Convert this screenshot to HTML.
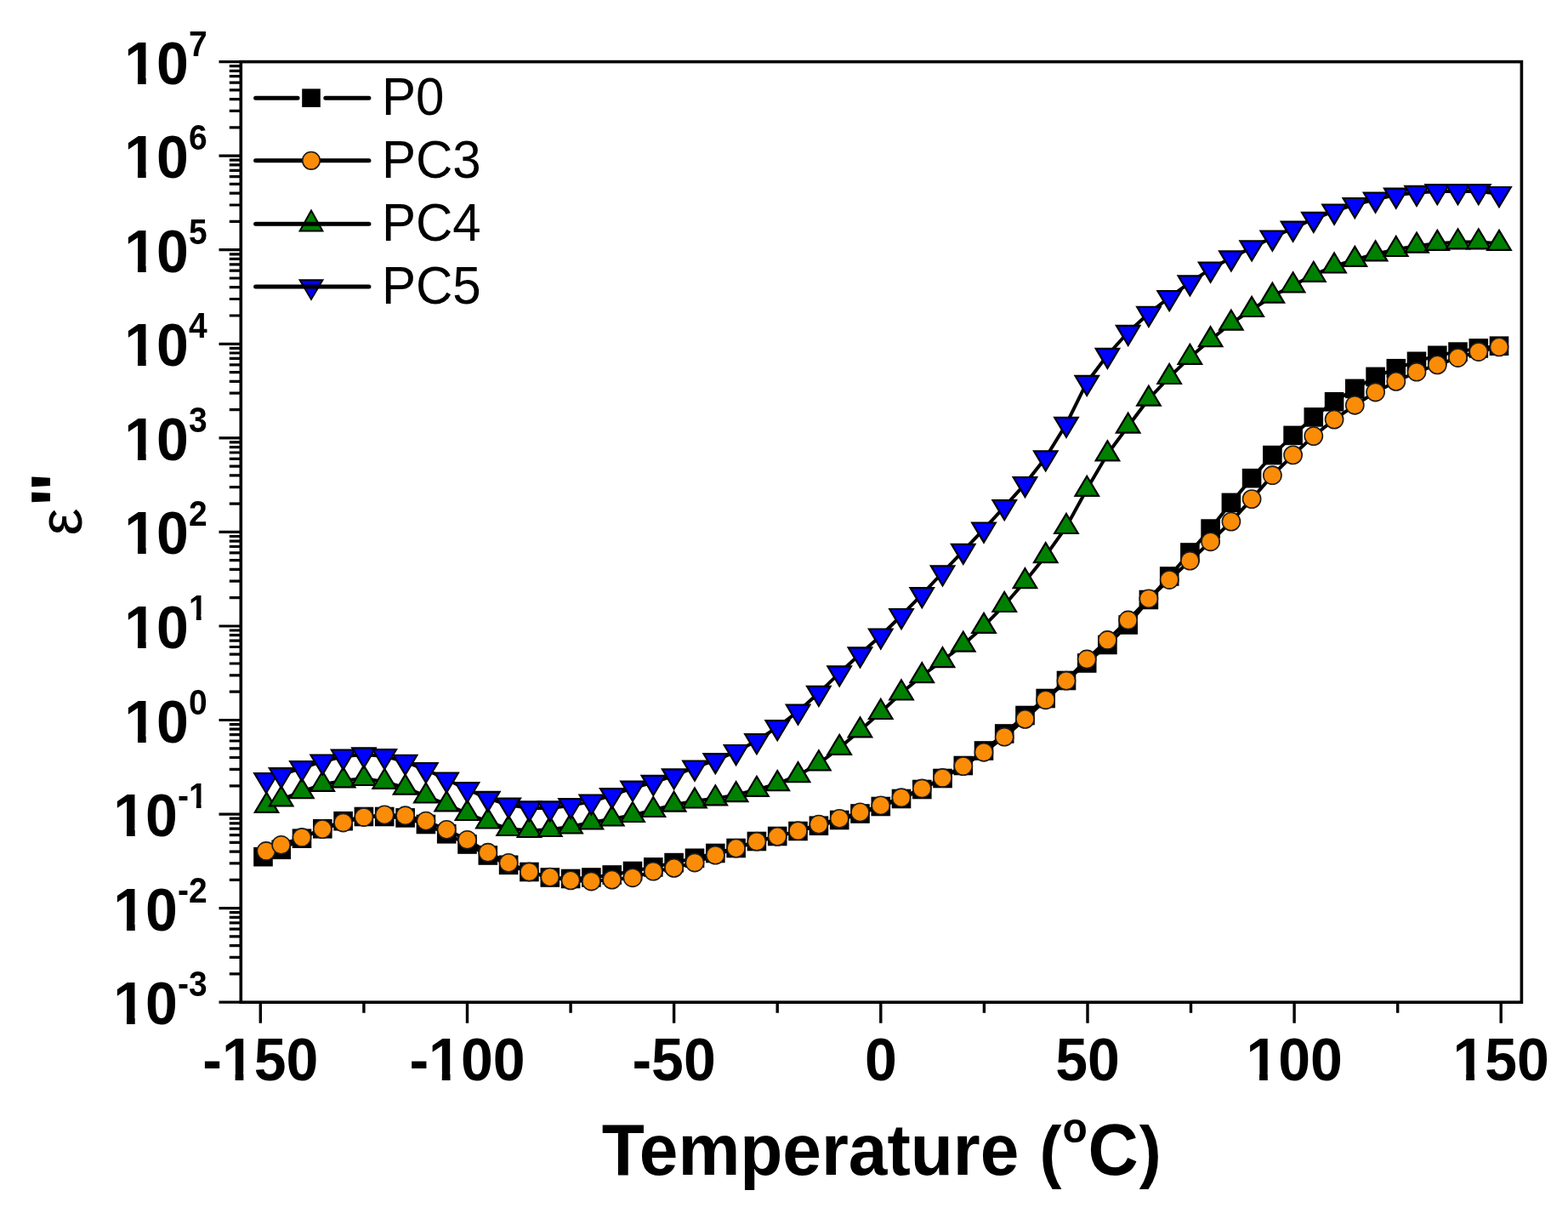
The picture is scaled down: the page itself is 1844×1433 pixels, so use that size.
<!DOCTYPE html>
<html><head><meta charset="utf-8"><title>Temperature dependence of dielectric loss</title>
<style>html,body{margin:0;padding:0;background:#fff;overflow:hidden}svg{display:block}.b{font-family:"Liberation Sans",Arial,sans-serif;font-weight:bold}.r{font-family:"Liberation Sans",Arial,sans-serif;font-weight:normal}</style></head><body>
<svg width="1844" height="1433" viewBox="0 0 1844 1433">
<rect width="1844" height="1433" fill="#fff"/>
<polyline points="309.5,1007.2 330.7,998.8 355,985.7 379.3,974.3 403.6,965.2 427.9,960 452.2,960 476.6,961.4 500.9,969 525.2,980.3 549.5,992.5 573.8,1005.5 598.1,1016.8 622.4,1025 646.8,1031.5 671.1,1033 695.4,1031.5 719.7,1028.5 744,1024 768.3,1019.4 792.6,1014.1 817,1008.8 841.3,1003 865.6,997 889.9,989 914.2,983 938.5,977 962.9,970.7 987.2,964 1011.5,956.5 1035.8,948 1060,939 1084.3,928 1108.5,915 1132.8,900 1157,882.5 1181.2,862.5 1205.5,841 1229.7,821 1254,800 1278.2,779.5 1302.4,758 1326.7,734.5 1350.9,705 1375.2,677.5 1399.4,649.5 1423.6,621.6 1447.9,590.9 1472.1,562.2 1496.4,535.1 1520.6,511.9 1544.8,490.4 1569.1,472.3 1593.3,456.9 1617.6,442.9 1641.8,433.2 1666,424.8 1690.3,417.8 1714.5,413.6 1738.8,409.4 1763,406.7" fill="none" stroke="#000" stroke-width="4.0" stroke-linejoin="round"/>
<g fill="#000" stroke="#000" stroke-width="1.6" stroke-linejoin="miter">
<rect x="299" y="996.7" width="21" height="21"/>
<rect x="320.2" y="988.3" width="21" height="21"/>
<rect x="344.5" y="975.2" width="21" height="21"/>
<rect x="368.8" y="963.8" width="21" height="21"/>
<rect x="393.1" y="954.7" width="21" height="21"/>
<rect x="417.4" y="949.5" width="21" height="21"/>
<rect x="441.7" y="949.5" width="21" height="21"/>
<rect x="466.1" y="950.9" width="21" height="21"/>
<rect x="490.4" y="958.5" width="21" height="21"/>
<rect x="514.7" y="969.8" width="21" height="21"/>
<rect x="539" y="982" width="21" height="21"/>
<rect x="563.3" y="995" width="21" height="21"/>
<rect x="587.6" y="1006.3" width="21" height="21"/>
<rect x="611.9" y="1014.5" width="21" height="21"/>
<rect x="636.3" y="1021" width="21" height="21"/>
<rect x="660.6" y="1022.5" width="21" height="21"/>
<rect x="684.9" y="1021" width="21" height="21"/>
<rect x="709.2" y="1018" width="21" height="21"/>
<rect x="733.5" y="1013.5" width="21" height="21"/>
<rect x="757.8" y="1008.9" width="21" height="21"/>
<rect x="782.1" y="1003.6" width="21" height="21"/>
<rect x="806.5" y="998.3" width="21" height="21"/>
<rect x="830.8" y="992.5" width="21" height="21"/>
<rect x="855.1" y="986.5" width="21" height="21"/>
<rect x="879.4" y="978.5" width="21" height="21"/>
<rect x="903.7" y="972.5" width="21" height="21"/>
<rect x="928" y="966.5" width="21" height="21"/>
<rect x="952.4" y="960.2" width="21" height="21"/>
<rect x="976.7" y="953.5" width="21" height="21"/>
<rect x="1001" y="946" width="21" height="21"/>
<rect x="1025.3" y="937.5" width="21" height="21"/>
<rect x="1049.5" y="928.5" width="21" height="21"/>
<rect x="1073.8" y="917.5" width="21" height="21"/>
<rect x="1098" y="904.5" width="21" height="21"/>
<rect x="1122.3" y="889.5" width="21" height="21"/>
<rect x="1146.5" y="872" width="21" height="21"/>
<rect x="1170.7" y="852" width="21" height="21"/>
<rect x="1195" y="830.5" width="21" height="21"/>
<rect x="1219.2" y="810.5" width="21" height="21"/>
<rect x="1243.5" y="789.5" width="21" height="21"/>
<rect x="1267.7" y="769" width="21" height="21"/>
<rect x="1291.9" y="747.5" width="21" height="21"/>
<rect x="1316.2" y="724" width="21" height="21"/>
<rect x="1340.4" y="694.5" width="21" height="21"/>
<rect x="1364.7" y="667" width="21" height="21"/>
<rect x="1388.9" y="639" width="21" height="21"/>
<rect x="1413.1" y="611.1" width="21" height="21"/>
<rect x="1437.4" y="580.4" width="21" height="21"/>
<rect x="1461.6" y="551.7" width="21" height="21"/>
<rect x="1485.9" y="524.6" width="21" height="21"/>
<rect x="1510.1" y="501.4" width="21" height="21"/>
<rect x="1534.3" y="479.9" width="21" height="21"/>
<rect x="1558.6" y="461.8" width="21" height="21"/>
<rect x="1582.8" y="446.4" width="21" height="21"/>
<rect x="1607.1" y="432.4" width="21" height="21"/>
<rect x="1631.3" y="422.7" width="21" height="21"/>
<rect x="1655.5" y="414.3" width="21" height="21"/>
<rect x="1679.8" y="407.3" width="21" height="21"/>
<rect x="1704" y="403.1" width="21" height="21"/>
<rect x="1728.3" y="398.9" width="21" height="21"/>
<rect x="1752.5" y="396.2" width="21" height="21"/>
</g>
<polyline points="313,1000.5 330.7,993.3 355,984.5 379.3,974.6 403.6,967 427.9,960.5 452.2,957.9 476.6,958.7 500.9,965.1 525.2,975.4 549.5,987.3 573.8,1002.2 598.1,1014.4 622.4,1025 646.8,1031.1 671.1,1034.9 695.4,1036 719.7,1034.1 744,1031.8 768.3,1024.2 792.6,1020.4 817,1014 841.3,1005.2 865.6,997.1 889.9,989.2 914.2,983.4 938.5,976.7 962.9,969.1 987.2,962.4 1011.5,954.9 1035.8,946.9 1060,937.7 1084.3,927 1108.5,914.5 1132.8,900.6 1157,884.3 1181.2,866.2 1205.5,845.4 1229.7,822.8 1254,800.2 1278.2,775 1302.4,752.5 1326.7,729 1350.9,703.8 1375.2,681.5 1399.4,659.2 1423.6,636.8 1447.9,613.1 1472.1,586.6 1496.4,558.7 1520.6,534.9 1544.8,512.6 1569.1,493.1 1593.3,476.3 1617.6,461 1641.8,448.4 1666,437.2 1690.3,428.9 1714.5,420.5 1738.8,413.5 1763,407.9" fill="none" stroke="#000" stroke-width="4.0" stroke-linejoin="round"/>
<g fill="#fb8c08" stroke="#1a1a1a" stroke-width="1.6" stroke-linejoin="miter">
<circle cx="313" cy="1000.5" r="10.6"/>
<circle cx="330.7" cy="993.3" r="10.6"/>
<circle cx="355" cy="984.5" r="10.6"/>
<circle cx="379.3" cy="974.6" r="10.6"/>
<circle cx="403.6" cy="967" r="10.6"/>
<circle cx="427.9" cy="960.5" r="10.6"/>
<circle cx="452.2" cy="957.9" r="10.6"/>
<circle cx="476.6" cy="958.7" r="10.6"/>
<circle cx="500.9" cy="965.1" r="10.6"/>
<circle cx="525.2" cy="975.4" r="10.6"/>
<circle cx="549.5" cy="987.3" r="10.6"/>
<circle cx="573.8" cy="1002.2" r="10.6"/>
<circle cx="598.1" cy="1014.4" r="10.6"/>
<circle cx="622.4" cy="1025" r="10.6"/>
<circle cx="646.8" cy="1031.1" r="10.6"/>
<circle cx="671.1" cy="1034.9" r="10.6"/>
<circle cx="695.4" cy="1036" r="10.6"/>
<circle cx="719.7" cy="1034.1" r="10.6"/>
<circle cx="744" cy="1031.8" r="10.6"/>
<circle cx="768.3" cy="1024.2" r="10.6"/>
<circle cx="792.6" cy="1020.4" r="10.6"/>
<circle cx="817" cy="1014" r="10.6"/>
<circle cx="841.3" cy="1005.2" r="10.6"/>
<circle cx="865.6" cy="997.1" r="10.6"/>
<circle cx="889.9" cy="989.2" r="10.6"/>
<circle cx="914.2" cy="983.4" r="10.6"/>
<circle cx="938.5" cy="976.7" r="10.6"/>
<circle cx="962.9" cy="969.1" r="10.6"/>
<circle cx="987.2" cy="962.4" r="10.6"/>
<circle cx="1011.5" cy="954.9" r="10.6"/>
<circle cx="1035.8" cy="946.9" r="10.6"/>
<circle cx="1060" cy="937.7" r="10.6"/>
<circle cx="1084.3" cy="927" r="10.6"/>
<circle cx="1108.5" cy="914.5" r="10.6"/>
<circle cx="1132.8" cy="900.6" r="10.6"/>
<circle cx="1157" cy="884.3" r="10.6"/>
<circle cx="1181.2" cy="866.2" r="10.6"/>
<circle cx="1205.5" cy="845.4" r="10.6"/>
<circle cx="1229.7" cy="822.8" r="10.6"/>
<circle cx="1254" cy="800.2" r="10.6"/>
<circle cx="1278.2" cy="775" r="10.6"/>
<circle cx="1302.4" cy="752.5" r="10.6"/>
<circle cx="1326.7" cy="729" r="10.6"/>
<circle cx="1350.9" cy="703.8" r="10.6"/>
<circle cx="1375.2" cy="681.5" r="10.6"/>
<circle cx="1399.4" cy="659.2" r="10.6"/>
<circle cx="1423.6" cy="636.8" r="10.6"/>
<circle cx="1447.9" cy="613.1" r="10.6"/>
<circle cx="1472.1" cy="586.6" r="10.6"/>
<circle cx="1496.4" cy="558.7" r="10.6"/>
<circle cx="1520.6" cy="534.9" r="10.6"/>
<circle cx="1544.8" cy="512.6" r="10.6"/>
<circle cx="1569.1" cy="493.1" r="10.6"/>
<circle cx="1593.3" cy="476.3" r="10.6"/>
<circle cx="1617.6" cy="461" r="10.6"/>
<circle cx="1641.8" cy="448.4" r="10.6"/>
<circle cx="1666" cy="437.2" r="10.6"/>
<circle cx="1690.3" cy="428.9" r="10.6"/>
<circle cx="1714.5" cy="420.5" r="10.6"/>
<circle cx="1738.8" cy="413.5" r="10.6"/>
<circle cx="1763" cy="407.9" r="10.6"/>
</g>
<polyline points="313.5,947.2 330.7,939.6 355,930.5 379.3,922.1 403.6,917.6 427.9,915.3 452.2,919.1 476.6,925.9 500.9,935.8 525.2,945.7 549.5,956.3 573.8,965.8 598.1,974.3 622.4,976.3 646.8,975.3 671.1,971.8 695.4,966.8 719.7,962.8 744,958.3 768.3,952.3 792.6,946 817,941.8 841.3,938.6 865.6,934.4 889.9,928.1 914.2,921.4 938.5,911.4 962.9,897.6 987.2,879.2 1011.5,858.6 1035.8,837.3 1060,814.8 1084.3,794.5 1108.5,776.5 1132.8,758 1157,736.2 1181.2,711.3 1205.5,683.5 1229.7,653.4 1254,619.3 1278.2,575.1 1302.4,533.7 1326.7,501 1350.9,469 1375.2,443.3 1399.4,420.1 1423.6,399.5 1447.9,380 1472.1,364.3 1496.4,348 1520.6,335.6 1544.8,323.1 1569.1,312.8 1593.3,305.2 1617.6,298.7 1641.8,293.3 1666,288.9 1690.3,286.2 1714.5,284.6 1738.8,284.6 1763,286.2" fill="none" stroke="#000" stroke-width="4.0" stroke-linejoin="round"/>
<g fill="#008000" stroke="#000" stroke-width="2.2" stroke-linejoin="miter">
<path d="M313.5 931.9L327.2 954.9H299.8Z"/>
<path d="M330.7 924.3L344.4 947.3H316.9Z"/>
<path d="M355 915.2L368.7 938.2H341.2Z"/>
<path d="M379.3 906.8L393 929.8H365.5Z"/>
<path d="M403.6 902.3L417.4 925.3H389.9Z"/>
<path d="M427.9 900L441.7 923H414.2Z"/>
<path d="M452.2 903.8L466 926.8H438.5Z"/>
<path d="M476.6 910.6L490.3 933.6H462.8Z"/>
<path d="M500.9 920.5L514.6 943.5H487.1Z"/>
<path d="M525.2 930.4L538.9 953.4H511.4Z"/>
<path d="M549.5 941L563.2 964H535.7Z"/>
<path d="M573.8 950.5L587.6 973.5H560.1Z"/>
<path d="M598.1 959L611.9 982H584.4Z"/>
<path d="M622.4 961L636.2 984H608.7Z"/>
<path d="M646.8 960L660.5 983H633Z"/>
<path d="M671.1 956.5L684.8 979.5H657.3Z"/>
<path d="M695.4 951.5L709.1 974.5H681.6Z"/>
<path d="M719.7 947.5L733.5 970.5H706Z"/>
<path d="M744 943L757.8 966H730.3Z"/>
<path d="M768.3 937L782.1 960H754.6Z"/>
<path d="M792.6 930.7L806.4 953.7H778.9Z"/>
<path d="M817 926.5L830.7 949.5H803.2Z"/>
<path d="M841.3 923.3L855 946.3H827.5Z"/>
<path d="M865.6 919.1L879.3 942.1H851.8Z"/>
<path d="M889.9 912.8L903.7 935.8H876.2Z"/>
<path d="M914.2 906.1L928 929.1H900.5Z"/>
<path d="M938.5 896.1L952.3 919.1H924.8Z"/>
<path d="M962.9 882.3L976.6 905.3H949.1Z"/>
<path d="M987.2 863.9L1000.9 886.9H973.4Z"/>
<path d="M1011.5 843.3L1025.2 866.3H997.7Z"/>
<path d="M1035.8 822L1049.5 845H1022Z"/>
<path d="M1060 799.5L1073.8 822.5H1046.3Z"/>
<path d="M1084.3 779.2L1098 802.2H1070.5Z"/>
<path d="M1108.5 761.2L1122.3 784.2H1094.8Z"/>
<path d="M1132.8 742.7L1146.5 765.7H1119Z"/>
<path d="M1157 720.9L1170.8 743.9H1143.2Z"/>
<path d="M1181.2 696L1195 719H1167.5Z"/>
<path d="M1205.5 668.2L1219.2 691.2H1191.7Z"/>
<path d="M1229.7 638.1L1243.5 661.1H1216Z"/>
<path d="M1254 604L1267.7 627H1240.2Z"/>
<path d="M1278.2 559.8L1292 582.8H1264.5Z"/>
<path d="M1302.4 518.4L1316.2 541.4H1288.7Z"/>
<path d="M1326.7 485.7L1340.4 508.7H1312.9Z"/>
<path d="M1350.9 453.7L1364.7 476.7H1337.2Z"/>
<path d="M1375.2 428L1388.9 451H1361.4Z"/>
<path d="M1399.4 404.8L1413.1 427.8H1385.6Z"/>
<path d="M1423.6 384.2L1437.4 407.2H1409.9Z"/>
<path d="M1447.9 364.7L1461.6 387.7H1434.1Z"/>
<path d="M1472.1 349L1485.9 372H1458.4Z"/>
<path d="M1496.4 332.7L1510.1 355.7H1482.6Z"/>
<path d="M1520.6 320.3L1534.3 343.3H1506.8Z"/>
<path d="M1544.8 307.8L1558.6 330.8H1531.1Z"/>
<path d="M1569.1 297.5L1582.8 320.5H1555.3Z"/>
<path d="M1593.3 289.9L1607.1 312.9H1579.6Z"/>
<path d="M1617.6 283.4L1631.3 306.4H1603.8Z"/>
<path d="M1641.8 278L1655.5 301H1628Z"/>
<path d="M1666 273.6L1679.8 296.6H1652.3Z"/>
<path d="M1690.3 270.9L1704 293.9H1676.5Z"/>
<path d="M1714.5 269.3L1728.3 292.3H1700.8Z"/>
<path d="M1738.8 269.3L1752.5 292.3H1725Z"/>
<path d="M1763 270.9L1776.8 293.9H1749.2Z"/>
</g>
<polyline points="313,916.9 330.7,910.9 355,902.9 379.3,895.2 403.6,889.2 427.9,887 452.2,888.9 476.6,895.6 500.9,904.8 525.2,916.2 549.5,927.9 573.8,938.6 598.1,946.2 622.4,950 646.8,950 671.1,946.9 695.4,942.4 719.7,934.8 744,926.4 768.3,919.6 792.6,912 817,902.2 841.3,893.8 865.6,883.7 889.9,870.7 914.2,854.8 938.5,836.4 962.9,814.6 987.2,791.1 1011.5,769.1 1035.8,747.2 1060,723.7 1084.3,698.8 1108.5,673 1132.8,647.6 1157,622.2 1181.2,595.8 1205.5,568.8 1229.7,538 1254,498.5 1278.2,449.5 1302.4,417.5 1326.7,390.5 1350.9,368.5 1375.2,349.7 1399.4,332.1 1423.6,316.2 1447.9,303 1472.1,291.1 1496.4,279.2 1520.6,268.3 1544.8,257.5 1569.1,248.2 1593.3,240.7 1617.6,234.2 1641.8,229.3 1666,226.6 1690.3,224.9 1714.5,224.9 1738.8,224.9 1763,227.7" fill="none" stroke="#000" stroke-width="4.0" stroke-linejoin="round"/>
<g fill="#0000ff" stroke="#000" stroke-width="2.2" stroke-linejoin="miter">
<path d="M299.2 909.2H326.8L313 932.2Z"/>
<path d="M316.9 903.2H344.4L330.7 926.2Z"/>
<path d="M341.2 895.2H368.7L355 918.2Z"/>
<path d="M365.5 887.5H393L379.3 910.5Z"/>
<path d="M389.9 881.5H417.4L403.6 904.5Z"/>
<path d="M414.2 879.3H441.7L427.9 902.3Z"/>
<path d="M438.5 881.2H466L452.2 904.2Z"/>
<path d="M462.8 887.9H490.3L476.6 910.9Z"/>
<path d="M487.1 897.1H514.6L500.9 920.1Z"/>
<path d="M511.4 908.5H538.9L525.2 931.5Z"/>
<path d="M535.7 920.2H563.2L549.5 943.2Z"/>
<path d="M560.1 930.9H587.6L573.8 953.9Z"/>
<path d="M584.4 938.5H611.9L598.1 961.5Z"/>
<path d="M608.7 942.3H636.2L622.4 965.3Z"/>
<path d="M633 942.3H660.5L646.8 965.3Z"/>
<path d="M657.3 939.2H684.8L671.1 962.2Z"/>
<path d="M681.6 934.7H709.1L695.4 957.7Z"/>
<path d="M706 927.1H733.5L719.7 950.1Z"/>
<path d="M730.3 918.7H757.8L744 941.7Z"/>
<path d="M754.6 911.9H782.1L768.3 934.9Z"/>
<path d="M778.9 904.3H806.4L792.6 927.3Z"/>
<path d="M803.2 894.5H830.7L817 917.5Z"/>
<path d="M827.5 886.1H855L841.3 909.1Z"/>
<path d="M851.8 876H879.3L865.6 899Z"/>
<path d="M876.2 863H903.7L889.9 886Z"/>
<path d="M900.5 847.1H928L914.2 870.1Z"/>
<path d="M924.8 828.7H952.3L938.5 851.7Z"/>
<path d="M949.1 806.9H976.6L962.9 829.9Z"/>
<path d="M973.4 783.4H1000.9L987.2 806.4Z"/>
<path d="M997.7 761.4H1025.2L1011.5 784.4Z"/>
<path d="M1022 739.5H1049.5L1035.8 762.5Z"/>
<path d="M1046.3 716H1073.8L1060 739Z"/>
<path d="M1070.5 691.1H1098L1084.3 714.1Z"/>
<path d="M1094.8 665.3H1122.3L1108.5 688.3Z"/>
<path d="M1119 639.9H1146.5L1132.8 662.9Z"/>
<path d="M1143.2 614.5H1170.8L1157 637.5Z"/>
<path d="M1167.5 588.1H1195L1181.2 611.1Z"/>
<path d="M1191.7 561.1H1219.2L1205.5 584.1Z"/>
<path d="M1216 530.3H1243.5L1229.7 553.3Z"/>
<path d="M1240.2 490.8H1267.7L1254 513.8Z"/>
<path d="M1264.5 441.8H1292L1278.2 464.8Z"/>
<path d="M1288.7 409.8H1316.2L1302.4 432.8Z"/>
<path d="M1312.9 382.8H1340.4L1326.7 405.8Z"/>
<path d="M1337.2 360.8H1364.7L1350.9 383.8Z"/>
<path d="M1361.4 342H1388.9L1375.2 365Z"/>
<path d="M1385.6 324.4H1413.1L1399.4 347.4Z"/>
<path d="M1409.9 308.5H1437.4L1423.6 331.5Z"/>
<path d="M1434.1 295.3H1461.6L1447.9 318.3Z"/>
<path d="M1458.4 283.4H1485.9L1472.1 306.4Z"/>
<path d="M1482.6 271.5H1510.1L1496.4 294.5Z"/>
<path d="M1506.8 260.6H1534.3L1520.6 283.6Z"/>
<path d="M1531.1 249.8H1558.6L1544.8 272.8Z"/>
<path d="M1555.3 240.5H1582.8L1569.1 263.5Z"/>
<path d="M1579.6 233H1607.1L1593.3 256Z"/>
<path d="M1603.8 226.5H1631.3L1617.6 249.5Z"/>
<path d="M1628 221.6H1655.5L1641.8 244.6Z"/>
<path d="M1652.3 218.9H1679.8L1666 241.9Z"/>
<path d="M1676.5 217.2H1704L1690.3 240.2Z"/>
<path d="M1700.8 217.2H1728.3L1714.5 240.2Z"/>
<path d="M1725 217.2H1752.5L1738.8 240.2Z"/>
<path d="M1749.2 220H1776.8L1763 243Z"/>
</g>
<g stroke="#000" fill="none" stroke-linecap="butt">
<rect x="283.3" y="72.6" width="1506.1" height="1105.6" stroke-width="3.6"/>
<path d="M257.5 72.6H283.3M269.8 149.9H283.3M269.8 130.4H283.3M269.8 116.6H283.3M269.8 105.9H283.3M269.8 97.1H283.3M269.8 89.7H283.3M269.8 83.3H283.3M269.8 77.7H283.3M257.5 183.2H283.3M269.8 260.4H283.3M269.8 241H283.3M269.8 227.2H283.3M269.8 216.4H283.3M269.8 207.7H283.3M269.8 200.3H283.3M269.8 193.9H283.3M269.8 188.2H283.3M257.5 293.7H283.3M269.8 371H283.3M269.8 351.5H283.3M269.8 337.7H283.3M269.8 327H283.3M269.8 318.2H283.3M269.8 310.8H283.3M269.8 304.4H283.3M269.8 298.8H283.3M257.5 404.3H283.3M269.8 481.6H283.3M269.8 462.1H283.3M269.8 448.3H283.3M269.8 437.6H283.3M269.8 428.8H283.3M269.8 421.4H283.3M269.8 415H283.3M269.8 409.3H283.3M257.5 514.8H283.3M269.8 592.1H283.3M269.8 572.6H283.3M269.8 558.8H283.3M269.8 548.1H283.3M269.8 539.4H283.3M269.8 532H283.3M269.8 525.6H283.3M269.8 519.9H283.3M257.5 625.4H283.3M269.8 702.7H283.3M269.8 683.2H283.3M269.8 669.4H283.3M269.8 658.7H283.3M269.8 649.9H283.3M269.8 642.5H283.3M269.8 636.1H283.3M269.8 630.5H283.3M257.5 736H283.3M269.8 813.2H283.3M269.8 793.8H283.3M269.8 780H283.3M269.8 769.2H283.3M269.8 760.5H283.3M269.8 753.1H283.3M269.8 746.7H283.3M269.8 741H283.3M257.5 846.5H283.3M269.8 923.8H283.3M269.8 904.3H283.3M269.8 890.5H283.3M269.8 879.8H283.3M269.8 871H283.3M269.8 863.6H283.3M269.8 857.2H283.3M269.8 851.6H283.3M257.5 957.1H283.3M269.8 1034.4H283.3M269.8 1014.9H283.3M269.8 1001.1H283.3M269.8 990.4H283.3M269.8 981.6H283.3M269.8 974.2H283.3M269.8 967.8H283.3M269.8 962.1H283.3M257.5 1067.6H283.3M269.8 1144.9H283.3M269.8 1125.4H283.3M269.8 1111.6H283.3M269.8 1100.9H283.3M269.8 1092.2H283.3M269.8 1084.8H283.3M269.8 1078.4H283.3M269.8 1072.7H283.3M257.5 1178.2H283.3" stroke-width="3.2"/>
<path d="M306.3 1178.2V1202.7M427.9 1178.2V1190.7M549.5 1178.2V1202.7M671.1 1178.2V1190.7M792.6 1178.2V1202.7M914.2 1178.2V1190.7M1035.8 1178.2V1202.7M1157.4 1178.2V1190.7M1279 1178.2V1202.7M1400.5 1178.2V1190.7M1522.1 1178.2V1202.7M1643.7 1178.2V1190.7M1765.2 1178.2V1202.7" stroke-width="3.4"/>
</g>
<g class="b" font-size="68" fill="#000" text-anchor="middle">
<text transform="translate(306.3 1270) scale(1 1.04)">-150</text>
<text transform="translate(549.5 1270) scale(1 1.04)">-100</text>
<text transform="translate(792.6 1270) scale(1 1.04)">-50</text>
<text transform="translate(1035.8 1270) scale(1 1.04)">0</text>
<text transform="translate(1279 1270) scale(1 1.04)">50</text>
<text transform="translate(1522.1 1270) scale(1 1.04)">100</text>
<text transform="translate(1765.2 1270) scale(1 1.04)">150</text>
</g>
<g class="b" fill="#000" text-anchor="end">
<text font-size="68" transform="translate(221.9 98.6) scale(1 1.04)">10</text>
<text font-size="39" transform="translate(243.6 65.6) scale(1 1.1)">7</text>
<text font-size="68" transform="translate(221.9 209.2) scale(1 1.04)">10</text>
<text font-size="39" transform="translate(243.6 176.2) scale(1 1.1)">6</text>
<text font-size="68" transform="translate(221.9 319.7) scale(1 1.04)">10</text>
<text font-size="39" transform="translate(243.6 286.7) scale(1 1.1)">5</text>
<text font-size="68" transform="translate(221.9 430.3) scale(1 1.04)">10</text>
<text font-size="39" transform="translate(243.6 397.3) scale(1 1.1)">4</text>
<text font-size="68" transform="translate(221.9 540.8) scale(1 1.04)">10</text>
<text font-size="39" transform="translate(243.6 507.8) scale(1 1.1)">3</text>
<text font-size="68" transform="translate(221.9 651.4) scale(1 1.04)">10</text>
<text font-size="39" transform="translate(243.6 618.4) scale(1 1.1)">2</text>
<text font-size="68" transform="translate(221.9 762) scale(1 1.04)">10</text>
<text font-size="39" transform="translate(243.6 729) scale(1 1.1)">1</text>
<text font-size="68" transform="translate(221.9 872.5) scale(1 1.04)">10</text>
<text font-size="39" transform="translate(243.6 839.5) scale(1 1.1)">0</text>
<text font-size="68" transform="translate(208.9 983.1) scale(1 1.04)">10</text>
<text font-size="39" transform="translate(243.6 950.1) scale(1 1.1)">-1</text>
<text font-size="68" transform="translate(208.9 1093.6) scale(1 1.04)">10</text>
<text font-size="39" transform="translate(243.6 1060.6) scale(1 1.1)">-2</text>
<text font-size="68" transform="translate(208.9 1204.2) scale(1 1.04)">10</text>
<text font-size="39" transform="translate(243.6 1171.2) scale(1 1.1)">-3</text>
</g>
<g fill="#fff"><rect x="264.36" y="1260.79" width="12.27" height="10.21"/><rect x="286.36" y="1260.79" width="11.86" height="10.21"/><rect x="507.51" y="1260.79" width="12.27" height="10.21"/><rect x="529.51" y="1260.79" width="11.86" height="10.21"/><rect x="1468.79" y="1260.79" width="12.27" height="10.21"/><rect x="1490.79" y="1260.79" width="11.86" height="10.21"/><rect x="1711.94" y="1260.79" width="12.27" height="10.21"/><rect x="1733.94" y="1260.79" width="11.86" height="10.21"/><rect x="149.70" y="89.39" width="12.27" height="10.21"/><rect x="171.70" y="89.39" width="11.86" height="10.21"/><rect x="149.70" y="199.95" width="12.27" height="10.21"/><rect x="171.70" y="199.95" width="11.86" height="10.21"/><rect x="149.70" y="310.51" width="12.27" height="10.21"/><rect x="171.70" y="310.51" width="11.86" height="10.21"/><rect x="149.70" y="421.07" width="12.27" height="10.21"/><rect x="171.70" y="421.07" width="11.86" height="10.21"/><rect x="149.70" y="531.63" width="12.27" height="10.21"/><rect x="171.70" y="531.63" width="11.86" height="10.21"/><rect x="149.70" y="642.19" width="12.27" height="10.21"/><rect x="171.70" y="642.19" width="11.86" height="10.21"/><rect x="149.70" y="752.75" width="12.27" height="10.21"/><rect x="171.70" y="752.75" width="11.86" height="10.21"/><rect x="223.87" y="722.58" width="6.95" height="7.38"/><rect x="236.57" y="722.58" width="6.80" height="7.38"/><rect x="149.70" y="863.31" width="12.27" height="10.21"/><rect x="171.70" y="863.31" width="11.86" height="10.21"/><rect x="136.71" y="973.87" width="12.27" height="10.21"/><rect x="158.71" y="973.87" width="11.86" height="10.21"/><rect x="223.87" y="943.70" width="6.95" height="7.38"/><rect x="236.57" y="943.70" width="6.80" height="7.38"/><rect x="136.71" y="1084.43" width="12.27" height="10.21"/><rect x="158.71" y="1084.43" width="11.86" height="10.21"/><rect x="136.71" y="1194.99" width="12.27" height="10.21"/><rect x="158.71" y="1194.99" width="11.86" height="10.21"/></g>
<g>
<path d="M300.6 115.2H350.1M382.8 115.2H433.9" stroke="#000" stroke-width="5" stroke-linecap="round"/>
<rect x="355.2" y="104.4" width="21.6" height="21.6" fill="#000"/>
<text class="r" transform="translate(449 135) scale(1 1.04)" font-size="60" fill="#000">P0</text>
<path d="M300.6 188.8H433.9" stroke="#000" stroke-width="5" stroke-linecap="round"/>
<circle cx="366" cy="188.8" r="10.3" fill="#fb8c08" stroke="#1a1a1a" stroke-width="1.6"/>
<text class="r" transform="translate(449 208.6) scale(1 1.04)" font-size="60" fill="#000">PC3</text>
<path d="M366 247.6L379.4 271.4H352.6Z" fill="#008000" stroke="#000" stroke-width="2"/>
<path d="M300.6 263.2H433.9" stroke="#000" stroke-width="5" stroke-linecap="round"/>
<text class="r" transform="translate(449 283) scale(1 1.04)" font-size="60" fill="#000">PC4</text>
<path d="M352.6 329.3H379.4L366 351.9Z" fill="#0000ff" stroke="#000" stroke-width="2"/>
<path d="M300.6 336.9H433.9" stroke="#000" stroke-width="5" stroke-linecap="round"/>
<text class="r" transform="translate(449 356.7) scale(1 1.04)" font-size="60" fill="#000">PC5</text>
</g>
<text class="b" transform="translate(707.8 1380.5) scale(1 1.04)" font-size="82" fill="#000">Temperature <tspan font-size="78" dx="1.5">(</tspan><tspan font-size="48" dy="-36.5" dx="1">o</tspan><tspan dy="36.5" dx="0.5">C</tspan><tspan font-size="78" dx="1">)</tspan></text>
<g transform="translate(96.3 629.6) rotate(-90)"><text x="0" y="0" fill="#000"><tspan class="r" font-size="72">ε</tspan><tspan class="b" font-size="87" dx="1.5" dy="1">"</tspan></text></g>
</svg></body></html>
